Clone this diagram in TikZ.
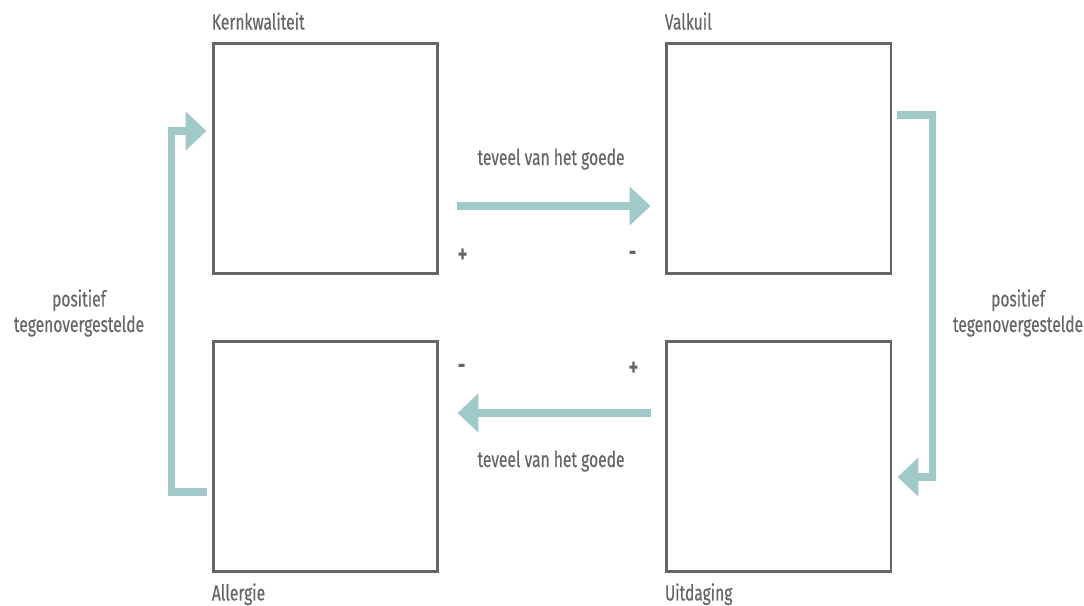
\documentclass[tikz,border=0pt]{standalone}
\usepackage{fontspec}
\setmainfont[FakeStretch=0.71, FakeBold=0.4]{Fira Sans}
\usetikzlibrary{arrows.meta}
\usetikzlibrary{positioning}

\definecolor{boxgray}{RGB}{102,102,102}
\definecolor{teal}{RGB}{160,202,202}

\begin{document}
\begin{tikzpicture}[x=0.02cm, y=-0.02cm,
    kwadrant/.style={draw=boxgray, line width=1.7pt, minimum width=4.5cm, minimum height=4.62cm, inner sep=0pt},
    lbl/.style={text=boxgray, font=\fontsize{12.5}{14.5}\selectfont, inner sep=0pt},
    teken/.style={text=boxgray, font=\bfseries\fontsize{14}{16}\selectfont, inner sep=0pt},
    pijl/.style={draw=teal, line width=4.5pt, line join=miter, -{Triangle[width=0.76cm, length=0.42cm]}}]
    \useasboundingbox (0,0) rectangle (1084,605);

    % kwadranten
    \node[kwadrant] (K) at (325.5,158.5) {};
    \node[kwadrant] (V) at (778.5,158.5) {};
    \node[kwadrant] (A) at (325.5,456.5) {};
    \node[kwadrant] (U) at (778.5,456.5) {};

    \node[lbl, anchor=base west] (Klbl) at ([shift={(0,-12)}]K.north west) {Kernkwaliteit};
    \node[lbl, anchor=base west] (Vlbl) at ([shift={(0,-12)}]V.north west) {Valkuil};
    \node[lbl, anchor=base west] (Albl) at ([shift={(0,27)}]A.south west) {Allergie};
    \node[lbl, anchor=base west] (Ulbl) at ([shift={(0,27)}]U.south west) {Uitdaging};

    % pijlen
    \draw[pijl] ([shift={(18,47.5)}]K.east) -- ([shift={(-14,47.5)}]V.west);
    \draw[pijl] ([shift={(-14,-43.5)}]U.west) -- ([shift={(18,-43.5)}]A.east);
    \draw[pijl] ([shift={(-5,35.5)}]A.west) -| ([shift={(-40,-27.5)}]K.west) -- ([shift={(-5,-27.5)}]K.west);
    \draw[pijl] ([shift={(5,-43.5)}]V.east) -| ([shift={(40,20.5)}]U.east) -- ([shift={(5,20.5)}]U.east);

    \node[lbl, anchor=base] (top) at (551,165) {teveel van het goede};
    \node[lbl, anchor=base] (bot) at (551,467) {teveel van het goede};
    \node[lbl, align=center] (links) at (79,313) {positief\\tegenovergestelde};
    \node[lbl, align=center] (rechts) at (1018,313) {positief\\tegenovergestelde};

    % plus en min
    \node[teken] (p1) at ([shift={(23,-20)}]K.south east) {+};
    \node[teken] (m1) at ([shift={(-32,-20)}]V.south west) {-};
    \node[teken] (m2) at ([shift={(22,29)}]A.north east) {-};
    \node[teken] (p2) at ([shift={(-31,29)}]U.north west) {+};
\end{tikzpicture}
\end{document}
